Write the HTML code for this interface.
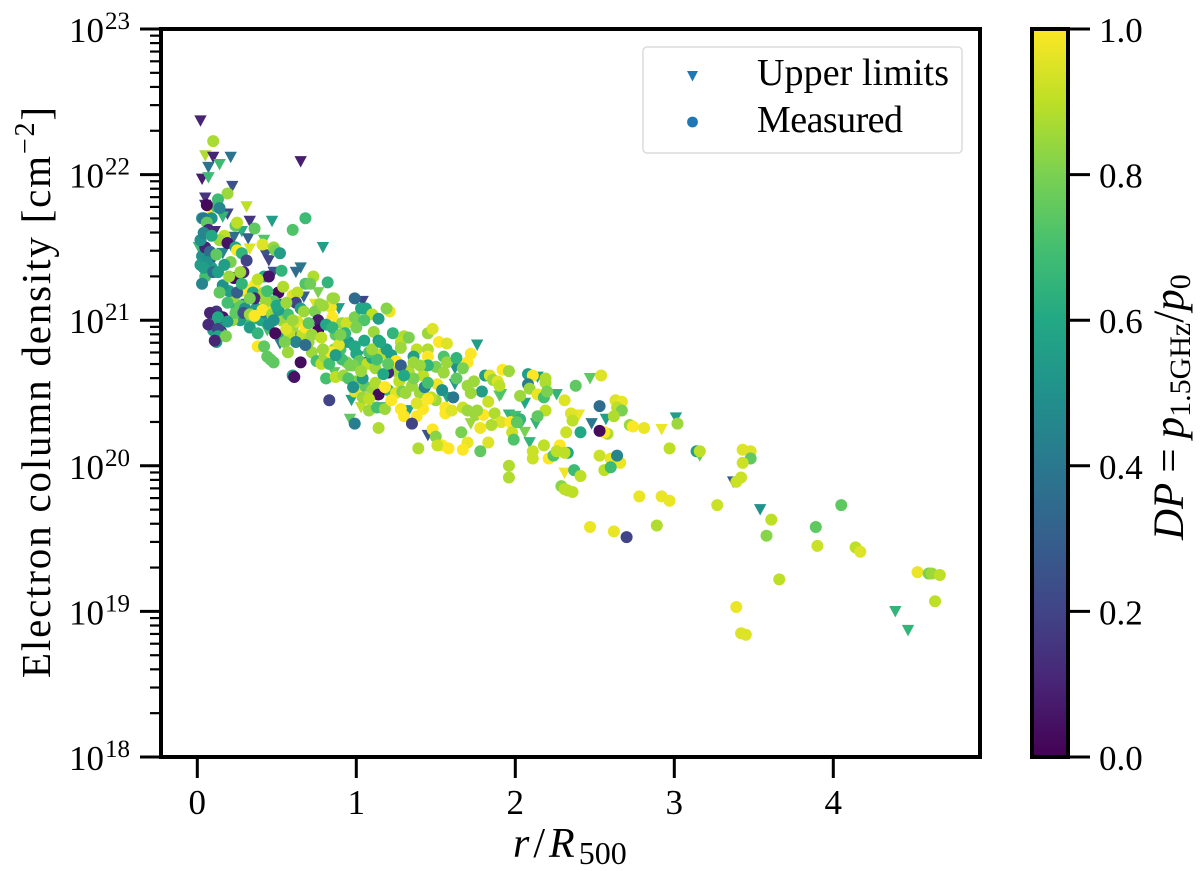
<!DOCTYPE html>
<html lang="en">
<head>
<meta charset="utf-8">
<title>Electron column density vs radius</title>
<style>
html,body{margin:0;padding:0;background:#fff;}
svg{display:block;font-family:"Liberation Serif",serif;fill:#000;}
</style>
</head>
<body>
<svg id="chart" xmlns="http://www.w3.org/2000/svg" width="1200" height="871" viewBox="0 0 1200 871">
  <defs>
    <linearGradient id="viridis" x1="0" y1="1" x2="0" y2="0"></linearGradient>
    <clipPath id="plot-clip"><rect x="161" y="29" width="819" height="728"></rect></clipPath>
  </defs>
  <rect x="0" y="0" width="1200" height="871" fill="#fff"></rect>
  <g id="upper-series" clip-path="url(#plot-clip)"></g>
  <g id="measured-series" clip-path="url(#plot-clip)"></g>
  <rect x="161" y="29" width="819" height="728" fill="none" stroke="#000" stroke-width="4"></rect>
  <g id="x-axis"></g>
  <g id="y-axis"></g>
  <text x="513" y="857" font-size="42"><tspan font-style="italic">r</tspan><tspan dx="4">/</tspan><tspan font-style="italic" dx="4">R</tspan><tspan font-size="32" dy="7" dx="4">500</tspan></text>
  <text transform="translate(50,678) rotate(-90)" font-size="41" textLength="571" lengthAdjust="spacing">Electron column density [cm<tspan font-size="28" dy="-16">−2</tspan><tspan dy="16">]</tspan></text>
  <g>
    <rect x="643" y="47" width="319" height="106" rx="4" ry="4" fill="#fff" fill-opacity="0.8" stroke="#dcdcdc" stroke-width="1.5"></rect>
    <path d="M687 71 L698 71 L692.5 81.5 Z" fill="#1f77b4"></path>
    <circle cx="692.5" cy="122" r="5.4" fill="#1f77b4"></circle>
    <text x="757" y="85" font-size="38" textLength="192" lengthAdjust="spacing">Upper limits</text>
    <text x="757" y="132" font-size="38" textLength="146" lengthAdjust="spacing">Measured</text>
  </g>
  <g>
    <rect x="1032" y="29" width="36" height="728" fill="url(#viridis)"></rect>
    <rect x="1032" y="29" width="36" height="728" fill="none" stroke="#000" stroke-width="4"></rect>
    <g id="colorbar-axis"></g>
    <text transform="translate(1183,540) rotate(-90)" font-size="43"><tspan font-style="italic">DP</tspan><tspan dx="10">=</tspan><tspan font-style="italic" dx="10">p</tspan><tspan font-size="30" dy="7">1.5GHz</tspan><tspan dy="-7">/</tspan><tspan font-style="italic">p</tspan><tspan font-size="30" dy="7">0</tspan></text>
  </g>
</svg>
<script>
const xTickValues = [0, 1, 2, 3, 4];
const yTickExponents = [18, 19, 20, 21, 22, 23];
const colorbarTicks = ["0.0", "0.2", "0.4", "0.6", "0.8", "1.0"];
const viridisStops = ["#440154","#482475","#414487","#355f8d","#2a788e","#21918c","#22a884","#44bf70","#7ad151","#bddf26","#fde725"];

/* Upper limits: r/R500, log10 column density, DP */
const upperR = [
0.02,0.05,0.10,0.21,0.14,0.07,0.03,0.07,0.65,0.22,
0.05,0.31,0.05,0.19,0.33,0.47,0.11,0.28,0.23,0.32,
0.42,0.79,0.01,0.16,0.08,0.16,0.33,0.43,0.45,0.65,
0.62,0.48,0.76,0.67,0.74,0.89,0.23,0.31,0.53,0.44,
0.62,0.52,1.01,0.86,0.97,1.04,1.04,0.96,1.76,1.62,
1.62,1.90,1.57,1.96,1.72,1.45,1.53,1.03,0.86,1.15,
1.33,2.47,2.26,2.14,2.06,1.91,2.00,2.13,2.06,2.09,
2.40,2.48,2.57,2.92,3.01,2.31,3.16,3.37,3.54,4.39,
4.47];
const upperLogN = [
22.37,22.13,22.12,22.12,22.07,22.05,21.97,21.98,22.09,21.92,
21.84,21.78,21.79,21.73,21.68,21.68,21.61,21.61,21.57,21.56,
21.55,21.50,21.50,21.71,21.74,21.46,21.49,21.45,21.41,21.36,
21.33,21.33,21.19,21.16,21.11,21.08,21.08,21.11,21.11,20.93,
20.89,20.84,20.75,20.64,20.45,21.13,20.71,20.32,20.83,20.56,
20.67,20.48,20.47,20.35,20.29,20.21,20.64,20.40,20.64,20.40,
20.38,20.60,20.49,20.61,20.43,20.49,20.34,20.29,20.23,20.16,
20.35,20.29,20.32,20.25,20.33,19.95,20.07,19.89,19.70,19.00,
18.87];
const upperDP = [
0.10,0.88,0.10,0.38,0.68,0.38,0.08,0.68,0.08,0.25,
0.15,0.90,0.10,0.20,0.15,0.55,0.12,0.62,0.35,0.30,
0.72,0.55,0.68,0.65,1.00,0.45,0.95,0.25,0.20,0.40,
0.35,0.25,0.80,0.30,0.95,0.55,0.65,0.40,0.30,0.70,
0.35,0.40,0.45,0.80,0.55,0.20,0.25,0.75,0.55,0.55,
0.50,0.75,0.60,0.65,0.85,0.25,0.72,0.90,0.75,0.65,
0.55,0.75,0.65,0.55,0.60,0.72,0.70,0.65,0.80,0.65,
0.97,0.40,0.55,0.97,0.55,0.98,0.75,0.30,0.50,0.65,
0.65];

/* Measured: r/R500, log10 column density, DP */
const measuredR = [
0.03,0.05,0.08,0.09,0.10,0.12,0.14,0.15,0.10,0.07,
0.12,0.16,0.27,0.30,0.34,0.37,0.40,0.43,0.46,0.50,
0.53,0.57,0.60,0.55,0.58,0.66,0.70,0.72,0.75,0.78,
0.80,0.83,0.86,0.90,0.95,1.00,1.02,1.07,1.10,1.12,
1.16,1.22,1.25,1.27,1.05,1.10,1.00,1.20,1.25,1.33,
1.38,1.42,1.50,1.50,1.63,1.70,1.40,1.47,0.05,0.03,
0.27,0.23,0.20,0.19,0.27,0.22,0.09,0.17,0.02,0.12,
0.10,0.19,0.13,0.06,0.14,0.03,0.04,0.06,0.24,0.25,
0.36,0.07,0.68,0.60,0.14,0.19,0.41,0.48,0.24,0.05,
0.08,0.25,0.21,0.28,0.31,0.49,0.52,0.06,0.04,0.10,
0.13,0.16,0.14,0.23,0.29,0.27,0.31,0.25,0.36,0.35,
0.42,0.45,0.53,0.73,0.68,0.71,0.82,0.51,0.54,0.60,
0.63,0.42,0.36,0.48,0.43,0.62,0.65,0.67,0.77,0.85,
0.99,0.84,0.74,0.08,0.16,0.13,0.19,0.13,0.13,0.18,
0.11,0.24,0.29,0.33,0.36,0.41,0.47,0.51,0.48,0.45,
0.33,0.38,0.49,0.56,0.63,0.68,0.60,0.76,0.76,0.82,
0.85,0.91,0.94,0.99,0.87,0.93,0.89,0.84,0.79,0.62,
0.68,0.55,0.57,0.38,0.42,0.44,0.46,0.48,0.65,0.60,
0.61,0.81,0.83,0.87,0.92,0.95,0.99,0.99,0.94,0.98,
0.91,0.86,1.03,1.06,1.21,1.19,1.10,1.14,0.79,0.81,
1.05,1.11,1.05,1.14,1.23,1.30,1.28,1.33,1.45,1.48,
1.52,1.57,1.45,1.55,1.57,1.45,1.63,1.72,1.70,1.67,
1.92,1.96,1.81,1.84,1.86,1.89,1.90,1.74,0.98,1.04,
1.12,1.14,1.18,1.04,1.08,1.08,1.13,1.18,1.22,1.29,
1.31,1.35,1.43,1.51,1.54,1.28,1.30,1.38,1.42,1.45,
1.38,1.61,1.35,1.14,0.99,1.48,1.50,1.56,1.56,1.60,
1.67,1.70,1.75,1.80,1.76,1.83,1.79,1.72,1.87,1.91,
1.85,1.78,1.66,1.97,1.98,1.99,2.02,1.83,1.70,1.78,
1.54,1.51,1.39,1.58,1.67,1.28,1.25,1.28,1.20,1.17,
1.13,1.19,1.08,0.99,1.36,1.45,1.40,1.36,1.55,1.36,
1.45,1.30,0.96,1.03,0.87,2.08,2.11,2.19,2.19,2.08,
2.09,2.38,2.54,2.03,2.14,2.18,2.20,2.31,2.53,2.63,
2.67,2.64,2.67,2.62,2.19,2.14,2.03,2.01,2.35,2.36,
2.72,2.74,2.81,3.02,2.32,2.41,2.58,2.56,2.53,2.11,
2.18,2.11,2.21,2.24,2.28,2.26,2.33,2.31,2.53,2.60,
2.66,2.64,2.97,3.14,3.16,1.96,1.96,2.56,2.60,2.37,
2.41,2.29,2.31,2.33,2.36,2.78,2.92,2.97,2.89,2.47,
2.62,2.70,3.27,3.61,3.58,3.66,3.39,3.42,3.45,3.89,
3.90,4.05,4.14,4.17,4.53,4.60,4.62,4.67,4.64,3.43,
3.48,3.48,3.43,3.42,3.39,0.02,0.04,0.09,0.12,0.17,
0.20,0.28,0.33,0.38,0.44,0.50,0.56,0.70,0.72,0.78,
0.85,0.90,1.00,1.10,1.15,1.20];
const measuredLogN = [
21.44,21.38,21.42,21.36,21.00,21.06,20.97,20.92,20.93,20.97,
20.85,20.90,21.10,21.08,21.00,21.08,21.00,21.05,21.10,21.02,
21.00,21.04,20.95,20.90,20.90,20.90,20.85,20.78,20.72,20.70,
20.75,20.70,20.80,20.80,20.85,20.77,20.72,20.70,20.74,20.67,
20.77,20.76,20.65,20.58,20.55,20.52,20.58,20.52,20.50,20.65,
20.80,20.62,20.68,20.45,20.60,20.55,20.50,20.47,21.30,21.25,
21.20,21.16,21.20,21.12,21.00,21.00,21.70,21.58,21.38,21.78,
22.23,21.87,21.83,21.79,21.77,21.70,21.70,21.67,21.65,21.67,
21.63,21.62,21.70,21.62,21.55,21.53,21.52,21.50,21.50,21.50,
21.47,21.48,21.40,21.46,21.41,21.48,21.46,21.40,21.36,21.33,
21.33,21.24,21.19,21.29,21.33,21.33,21.21,21.19,21.24,21.19,
21.30,21.30,21.34,21.30,21.25,21.25,21.26,21.19,21.23,21.17,
21.19,21.19,21.15,21.13,21.13,21.12,21.08,21.06,21.11,21.15,
21.15,21.09,21.06,21.05,21.02,21.02,20.99,20.94,20.89,20.89,
20.86,21.05,21.05,21.04,21.03,21.07,21.04,21.07,21.00,20.97,
20.95,20.91,20.91,20.94,20.99,20.95,21.00,21.00,20.93,20.97,
21.02,20.98,20.98,21.02,20.90,20.91,20.83,20.78,20.80,20.85,
20.83,20.85,20.78,20.82,20.82,20.75,20.73,20.71,20.71,20.62,
20.61,20.60,20.45,20.61,20.62,20.60,20.51,20.82,20.71,20.69,
20.73,21.15,21.08,21.08,21.06,21.08,21.04,21.01,21.10,20.97,
21.00,20.92,20.86,20.86,20.91,20.89,20.85,20.88,20.91,20.94,
20.85,20.84,20.80,20.75,20.71,20.75,20.74,20.77,20.71,20.67,
20.66,20.65,20.62,20.62,20.59,20.58,20.55,20.58,20.54,20.60,
20.57,20.49,20.54,20.47,20.46,20.38,20.40,20.39,20.45,20.51,
20.50,20.55,20.54,20.56,20.52,20.39,20.34,20.34,20.39,20.46,
20.43,20.47,20.29,20.26,20.29,20.25,20.20,20.40,20.36,20.38,
20.40,20.38,20.35,20.35,20.38,20.44,20.51,20.50,20.36,20.30,
20.28,20.26,20.23,20.30,20.23,20.18,20.30,20.16,20.16,20.10,
20.14,20.14,20.12,20.12,20.11,20.81,20.72,20.69,20.64,20.63,
20.73,20.80,20.78,20.82,20.75,20.69,20.69,20.71,20.64,20.60,
20.57,20.62,20.69,20.65,20.76,20.63,20.62,20.60,20.57,20.56,
20.53,20.55,20.62,20.48,20.49,20.47,20.51,20.45,20.41,20.45,
20.44,20.40,20.38,20.34,20.38,20.34,20.32,20.30,20.36,20.31,
20.28,20.27,20.26,20.29,20.23,20.23,20.22,20.23,20.24,20.10,
20.14,20.05,20.05,20.07,20.14,20.10,20.09,20.09,20.07,20.05,
20.02,20.07,20.12,20.10,20.10,20.00,19.92,19.97,19.99,19.97,
19.93,19.86,19.84,19.83,19.82,19.79,19.79,19.76,19.59,19.58,
19.55,19.51,19.73,19.63,19.52,19.22,19.03,18.85,18.84,19.58,
19.45,19.73,19.44,19.41,19.27,19.26,19.26,19.25,19.07,20.11,
20.10,20.05,20.02,19.92,19.89,21.55,21.60,21.58,21.45,21.38,
21.30,21.25,21.15,21.28,21.20,21.10,21.12,20.98,20.90,20.88,
20.95,20.90,20.95,20.80,20.85,20.70];
const measuredDP = [
0.50,0.60,0.30,0.55,0.60,0.15,0.65,0.10,0.55,0.12,
0.55,0.65,0.75,0.50,0.70,0.55,0.60,0.45,0.95,0.60,
0.85,0.70,0.85,0.60,0.90,0.90,0.85,0.85,0.70,0.90,
0.85,0.70,0.85,0.70,0.55,0.60,0.75,0.90,0.60,0.85,
0.90,0.55,0.85,0.90,0.75,0.85,0.80,0.70,0.95,0.88,
0.90,0.90,0.80,0.85,0.75,0.85,0.85,0.90,0.70,0.45,
0.90,0.85,0.55,0.70,0.55,0.85,0.50,0.90,0.55,0.70,
0.87,0.85,0.68,0.02,0.45,0.50,0.40,0.75,0.75,0.90,
0.75,0.12,0.68,0.72,0.85,0.05,0.95,0.85,0.60,0.10,
0.35,1.00,0.80,0.65,0.20,0.80,0.55,0.50,0.55,0.35,
0.55,0.50,0.75,0.02,0.10,0.85,1.00,0.30,1.00,0.60,
0.60,0.05,0.65,0.88,0.72,0.78,0.65,0.03,0.88,0.95,
0.90,0.85,0.10,0.75,0.85,0.20,0.55,0.85,0.85,0.85,
0.35,0.98,0.80,0.10,0.05,0.60,0.55,0.20,0.60,0.80,
0.10,0.75,0.25,0.85,1.00,1.00,0.85,0.55,0.50,0.50,
0.55,0.65,0.03,0.95,0.95,1.00,0.85,0.08,0.03,0.60,
1.00,0.85,0.92,0.80,0.75,0.65,0.95,1.00,0.85,0.45,
0.35,0.80,0.85,1.00,0.75,0.75,0.75,0.75,0.03,0.55,
0.05,0.70,0.20,0.90,0.85,0.72,0.95,0.55,0.80,0.80,
0.70,0.85,0.60,0.60,0.98,0.82,0.90,0.55,0.85,0.60,
0.72,0.85,0.60,0.55,0.65,0.88,0.90,0.80,0.85,0.95,
1.00,0.95,0.88,0.72,0.85,1.00,0.65,1.00,1.00,0.80,
1.00,0.85,0.55,0.95,0.85,0.95,0.90,0.85,0.50,0.55,
0.88,0.03,1.00,0.85,0.90,0.85,0.70,0.85,1.00,0.80,
0.85,0.85,0.45,0.98,0.50,1.00,1.00,1.00,1.00,1.00,
0.95,0.40,0.20,0.88,0.42,1.00,0.82,1.00,1.00,0.95,
0.92,0.85,0.85,1.00,0.85,0.92,0.55,0.85,0.88,0.95,
0.88,0.98,0.80,1.00,0.92,0.72,0.70,0.95,0.97,0.75,
1.00,0.92,0.88,1.00,1.00,0.85,1.00,0.30,0.10,0.60,
0.70,0.55,0.72,0.60,0.55,0.65,0.85,0.85,0.85,0.80,
0.70,0.60,0.80,0.85,0.55,0.55,1.00,0.88,0.88,0.42,
0.85,0.75,0.95,0.85,0.97,0.70,0.80,0.95,0.35,0.95,
0.97,0.90,0.80,0.88,0.90,0.75,0.65,0.75,0.95,0.90,
0.85,1.00,0.97,0.85,0.92,0.60,0.88,1.00,0.03,0.92,
0.90,0.92,1.00,0.72,1.00,0.90,0.60,0.90,0.92,0.97,
0.97,0.45,0.90,0.55,0.90,0.88,0.88,0.90,0.68,0.68,
0.90,0.82,0.90,0.90,0.90,0.97,0.97,0.97,0.88,0.97,
0.97,0.20,0.92,0.90,0.82,0.90,0.97,0.95,0.95,0.75,
0.92,0.75,0.90,0.95,0.97,0.80,0.85,0.90,0.90,0.95,
0.95,0.75,0.92,0.92,0.92,0.50,0.45,0.60,0.75,0.55,
0.85,0.65,0.80,0.90,0.70,0.60,0.85,0.75,0.85,0.90,
0.65,0.80,0.80,0.85,0.60,0.75];

const SVG_NS = "http://www.w3.org/2000/svg";
const plotLeft = 161, plotRight = 980, plotTop = 29, plotBottom = 757;

function xScale(r) { return 197.3 + 159 * r; }
function yScale(logN) { return plotBottom - (logN - 18) * (plotBottom - plotTop) / 5; }
function cbScale(v) { return plotBottom - v * (plotBottom - plotTop); }

function viridis(v) {
  const t = Math.max(0, Math.min(1, v)) * (viridisStops.length - 1);
  const i = Math.min(Math.floor(t), viridisStops.length - 2);
  const f = t - i;
  const a = viridisStops[i], b = viridisStops[i + 1];
  const c = [1, 3, 5].map(function (p) {
    const x = parseInt(a.substr(p, 2), 16), y = parseInt(b.substr(p, 2), 16);
    return Math.round(x + (y - x) * f);
  });
  return "rgb(" + c.join(",") + ")";
}

function node(tag, parent) {
  const el = document.createElementNS(SVG_NS, tag);
  parent.appendChild(el);
  return el;
}

function drawTick(parent, x1, y1, x2, y2, w) {
  const el = node("line", parent);
  el.setAttribute("x1", x1);
  el.setAttribute("y1", y1);
  el.setAttribute("x2", x2);
  el.setAttribute("y2", y2);
  el.setAttribute("stroke", "#000");
  el.setAttribute("stroke-width", w);
  return el;
}

/* colorbar gradient */
const gradient = document.getElementById("viridis");
viridisStops.forEach(function (c, i) {
  const s = node("stop", gradient);
  s.setAttribute("offset", (i / (viridisStops.length - 1)));
  s.setAttribute("stop-color", c);
});

/* x axis */
const xAxis = document.getElementById("x-axis");
xTickValues.forEach(function (v) {
  const t = drawTick(xAxis, xScale(v), plotBottom, xScale(v), plotBottom + 21, 3);
  
  
  const label = node("text", xAxis);
  
  
  label.setAttribute("x", xScale(v));
  label.setAttribute("y", 814);
  label.setAttribute("font-size", 35);
  label.setAttribute("text-anchor", "middle");
  label.textContent = String(v);
});

/* y axis */
const yAxis = document.getElementById("y-axis");
yTickExponents.forEach(function (e) {
  const y = yScale(e);
  const t = drawTick(yAxis, plotLeft - 21, y, plotLeft, y, 3);
  
  
  const label = node("text", yAxis);
  
  
  label.setAttribute("x", 69);
  label.setAttribute("y", y + 13);
  label.setAttribute("font-size", 35);
  label.textContent = "10";
  const sup = node("tspan", label);
  sup.setAttribute("x", 105);
  sup.setAttribute("y", y);
  sup.setAttribute("font-size", 25);
  sup.textContent = String(e);
  if (e < 23) {
    for (let m = 2; m <= 9; m++) {
      const my = yScale(e + Math.log10(m));
      const mt = drawTick(yAxis, plotLeft - 11, my, plotLeft, my, 2.2);
      
      
    }
  }
});

/* colorbar ticks */
const cbAxis = document.getElementById("colorbar-axis");
colorbarTicks.forEach(function (txt) {
  const v = parseFloat(txt);
  const y = cbScale(v);
  const t = drawTick(cbAxis, 1068, y, 1090, y, 3);
  
  
  const label = node("text", cbAxis);
  
  
  label.setAttribute("x", 1099);
  label.setAttribute("y", y + 13);
  label.setAttribute("font-size", 35);
  label.textContent = txt;
});

/* upper limit markers */
const upperGroup = document.getElementById("upper-series");
upperR.forEach(function (r, i) {
  const cx = xScale(r), cy = yScale(upperLogN[i]);
  const p = node("path", upperGroup);
  
  
  p.setAttribute("d", "M" + (cx - 6.2) + " " + (cy - 5.4) + "L" + (cx + 6.2) + " " + (cy - 5.4) + "L" + cx + " " + (cy + 6) + "Z");
  p.setAttribute("fill", viridis(upperDP[i]));
});

/* measured markers */
const measuredGroup = document.getElementById("measured-series");
measuredR.forEach(function (r, i) {
  const c = node("circle", measuredGroup);
  
  
  c.setAttribute("cx", xScale(r));
  c.setAttribute("cy", yScale(measuredLogN[i]));
  c.setAttribute("r", 6);
  c.setAttribute("fill", viridis(measuredDP[i]));
});
</script>
</body>
</html>
